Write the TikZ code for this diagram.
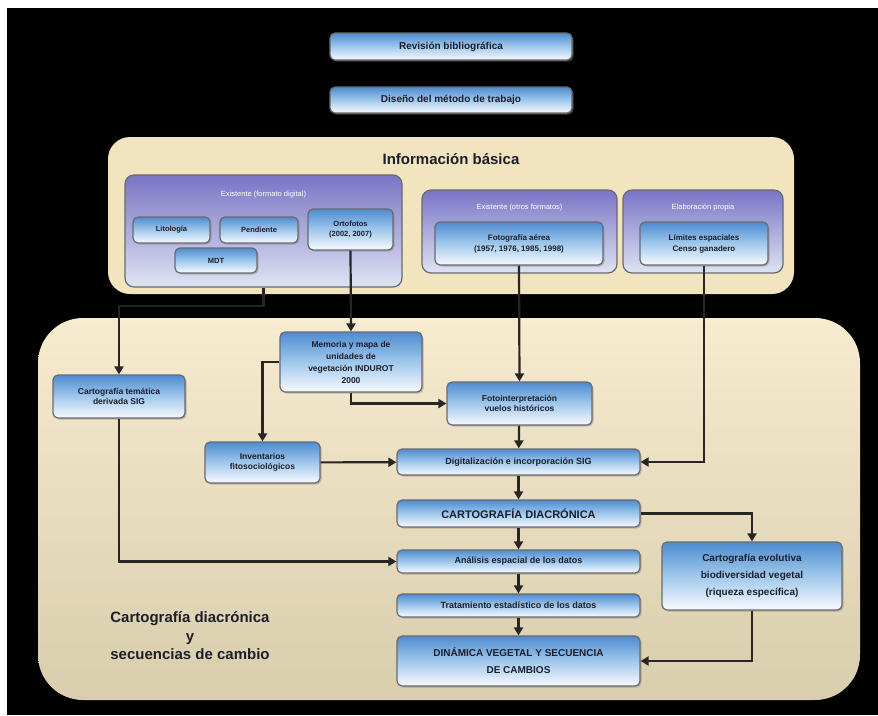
\documentclass[tikz,border=0pt]{standalone}
\usepackage{fontspec}
\setmainfont{Liberation Sans}
\usetikzlibrary{arrows.meta,shadows}
\definecolor{boxtop}{RGB}{78,140,208}
\definecolor{boxmid}{RGB}{160,200,236}
\definecolor{boxbot}{RGB}{248,250,255}
\definecolor{boxline}{RGB}{105,105,110}
\definecolor{grptop}{RGB}{122,116,198}
\definecolor{grpbot}{RGB}{222,228,242}
\definecolor{pantop}{RGB}{247,235,208}
\definecolor{panbot}{RGB}{216,205,172}
\definecolor{upper}{RGB}{243,228,192}
\definecolor{ink}{RGB}{28,30,42}
\definecolor{wire}{RGB}{40,38,36}
\begin{document}
\begin{tikzpicture}[x=1pt,y=-1pt,
  box/.style={draw=boxline, line width=1.2pt, rounded corners=5pt, top color=boxtop, bottom color=boxbot, middle color=boxmid,
    text=ink, font=\bfseries\fontsize{8.5}{10.5}\selectfont, align=center, inner sep=1pt,
    drop shadow={shadow xshift=1.5pt, shadow yshift=-1.5pt, opacity=.45}},
  grp/.style={draw=boxline, line width=1.2pt, rounded corners=9pt, top color=grptop, bottom color=grpbot, inner sep=0pt},
  grptitle/.style={text=white, font=\fontsize{7.5}{9}\selectfont},
  arr/.style={draw=wire, line width=2.2pt, -{Triangle[length=8pt,width=9pt]}}]

\fill[white] (0,0) rectangle (878,715);
\fill[black] (7,8) rectangle (878,715);

% panels
\fill[upper, rounded corners=22pt] (108,137) rectangle (794,294);
\shade[top color=pantop, bottom color=panbot, rounded corners=45pt] (38,318) rectangle (860,700);

\node[box, minimum width=242pt, minimum height=27pt, font=\bfseries\fontsize{10}{12}\selectfont] (rev) at (451,46.5) {Revisión bibliográfica};
\node[box, minimum width=242pt, minimum height=26pt, font=\bfseries\fontsize{10}{12}\selectfont] (dis) at (451,100) {Diseño del método de trabajo};

\node[text=ink, font=\bfseries\fontsize{15}{18}\selectfont] (info) at (451,159) {Información básica};

% informacion basica
\node[grp, minimum width=277pt, minimum height=112pt] (g1) at (263.5,231) {};
\node[grp, minimum width=195pt, minimum height=83pt] (g2) at (519.5,231.5) {};
\node[grp, minimum width=160pt, minimum height=83pt] (g3) at (703,231.5) {};
\node[grptitle] (g1t) at (263.5,195) {Existente (formato digital)};
\node[grptitle] (g2t) at (519.5,208) {Existente (otros formatos)};
\node[grptitle] (g3t) at (703,208) {Elaboración propia};

\node[box, minimum width=77pt, minimum height=26pt, font=\bfseries\fontsize{7.5}{9}\selectfont] (lit) at (171.5,230) {Litología};
\node[box, minimum width=78pt, minimum height=26pt, font=\bfseries\fontsize{7.5}{9}\selectfont] (pen) at (259,230) {Pendiente};
\node[box, minimum width=82pt, minimum height=25pt, font=\bfseries\fontsize{7.5}{9}\selectfont] (mdt) at (216,260.5) {MDT};
\node[box, minimum width=85pt, minimum height=41pt, font=\bfseries\fontsize{7.5}{10}\selectfont] (orto) at (350.5,229.5) {Ortofotos\\(2002, 2007)};
\node[box, minimum width=168pt, minimum height=43pt, font=\bfseries\fontsize{8}{11}\selectfont] (foto) at (519,243.5) {Fotografía aérea\\(1957, 1976, 1985, 1998)};
\node[box, minimum width=128pt, minimum height=43pt, font=\bfseries\fontsize{8}{11}\selectfont] (lim) at (704,243.5) {Límites espaciales\\Censo ganadero};

% cartografia diacronica
\node[box, minimum width=132pt, minimum height=43pt] (ctem) at (119,396.5) {Cartografía temática\\derivada SIG};
\node[box, minimum width=142pt, minimum height=60pt, font=\bfseries\fontsize{8.5}{12}\selectfont] (mem) at (351,362) {Memoria y mapa de\\unidades de\\vegetación INDUROT\\2000};
\node[box, minimum width=115pt, minimum height=41pt] (inv) at (262.5,462.5) {Inventarios\\fitosociológicos};
\node[box, minimum width=145pt, minimum height=43pt] (fot) at (519.5,403.5) {Fotointerpretación\\vuelos históricos};
\node[box, minimum width=243pt, minimum height=26pt, font=\bfseries\fontsize{9}{11}\selectfont] (dig) at (518.5,462) {Digitalización e incorporación SIG};
\node[box, minimum width=243pt, minimum height=27pt, font=\bfseries\fontsize{11}{13}\selectfont] (cdia) at (518.5,513.5) {CARTOGRAFÍA DIACRÓNICA};
\node[box, minimum width=243pt, minimum height=23pt, font=\bfseries\fontsize{9}{11}\selectfont] (ana) at (518.5,561.5) {Análisis espacial de los datos};
\node[box, minimum width=243pt, minimum height=23pt, font=\bfseries\fontsize{9}{11}\selectfont] (tra) at (518.5,605.5) {Tratamiento estadístico de los datos};
\node[box, minimum width=243pt, minimum height=50pt, font=\bfseries\fontsize{10}{17}\selectfont] (din) at (518.5,661) {DINÁMICA VEGETAL Y SECUENCIA\\DE CAMBIOS};
\node[box, minimum width=180pt, minimum height=68pt, font=\bfseries\fontsize{10}{17}\selectfont] (evo) at (752,576) {Cartografía evolutiva\\biodiversidad vegetal\\(riqueza específica)};

\node[text=ink, align=center, font=\bfseries\fontsize{15}{18.5}\selectfont] (lbl) at (190,636) {Cartografía diacrónica\\y\\secuencias de cambio};

\coordinate (k1) at (263.5,306);
\draw[arr] (g1.south) -- (k1) -| (ctem.north);
\draw[arr] (orto.south) -- (mem.north);
\draw[arr] (foto.south) -- (fot.north);
\draw[arr] (lim.south) |- (dig.east);
\draw[arr] (mem.west) -| (inv.north);
\draw[arr] (mem.south) |- (fot.west);
\draw[arr] (fot) -- (dig);
\draw[arr] (inv) -- (dig);
\draw[arr] (dig) -- (cdia);
\draw[arr] (cdia.east) -| (evo.north);
\draw[arr] (cdia) -- (ana);
\draw[arr] (ctem.south) |- (ana.west);
\draw[arr] (ana) -- (tra);
\draw[arr] (tra) -- (din);
\draw[arr] (evo.south) |- (din.east);

\end{tikzpicture}
\end{document}
